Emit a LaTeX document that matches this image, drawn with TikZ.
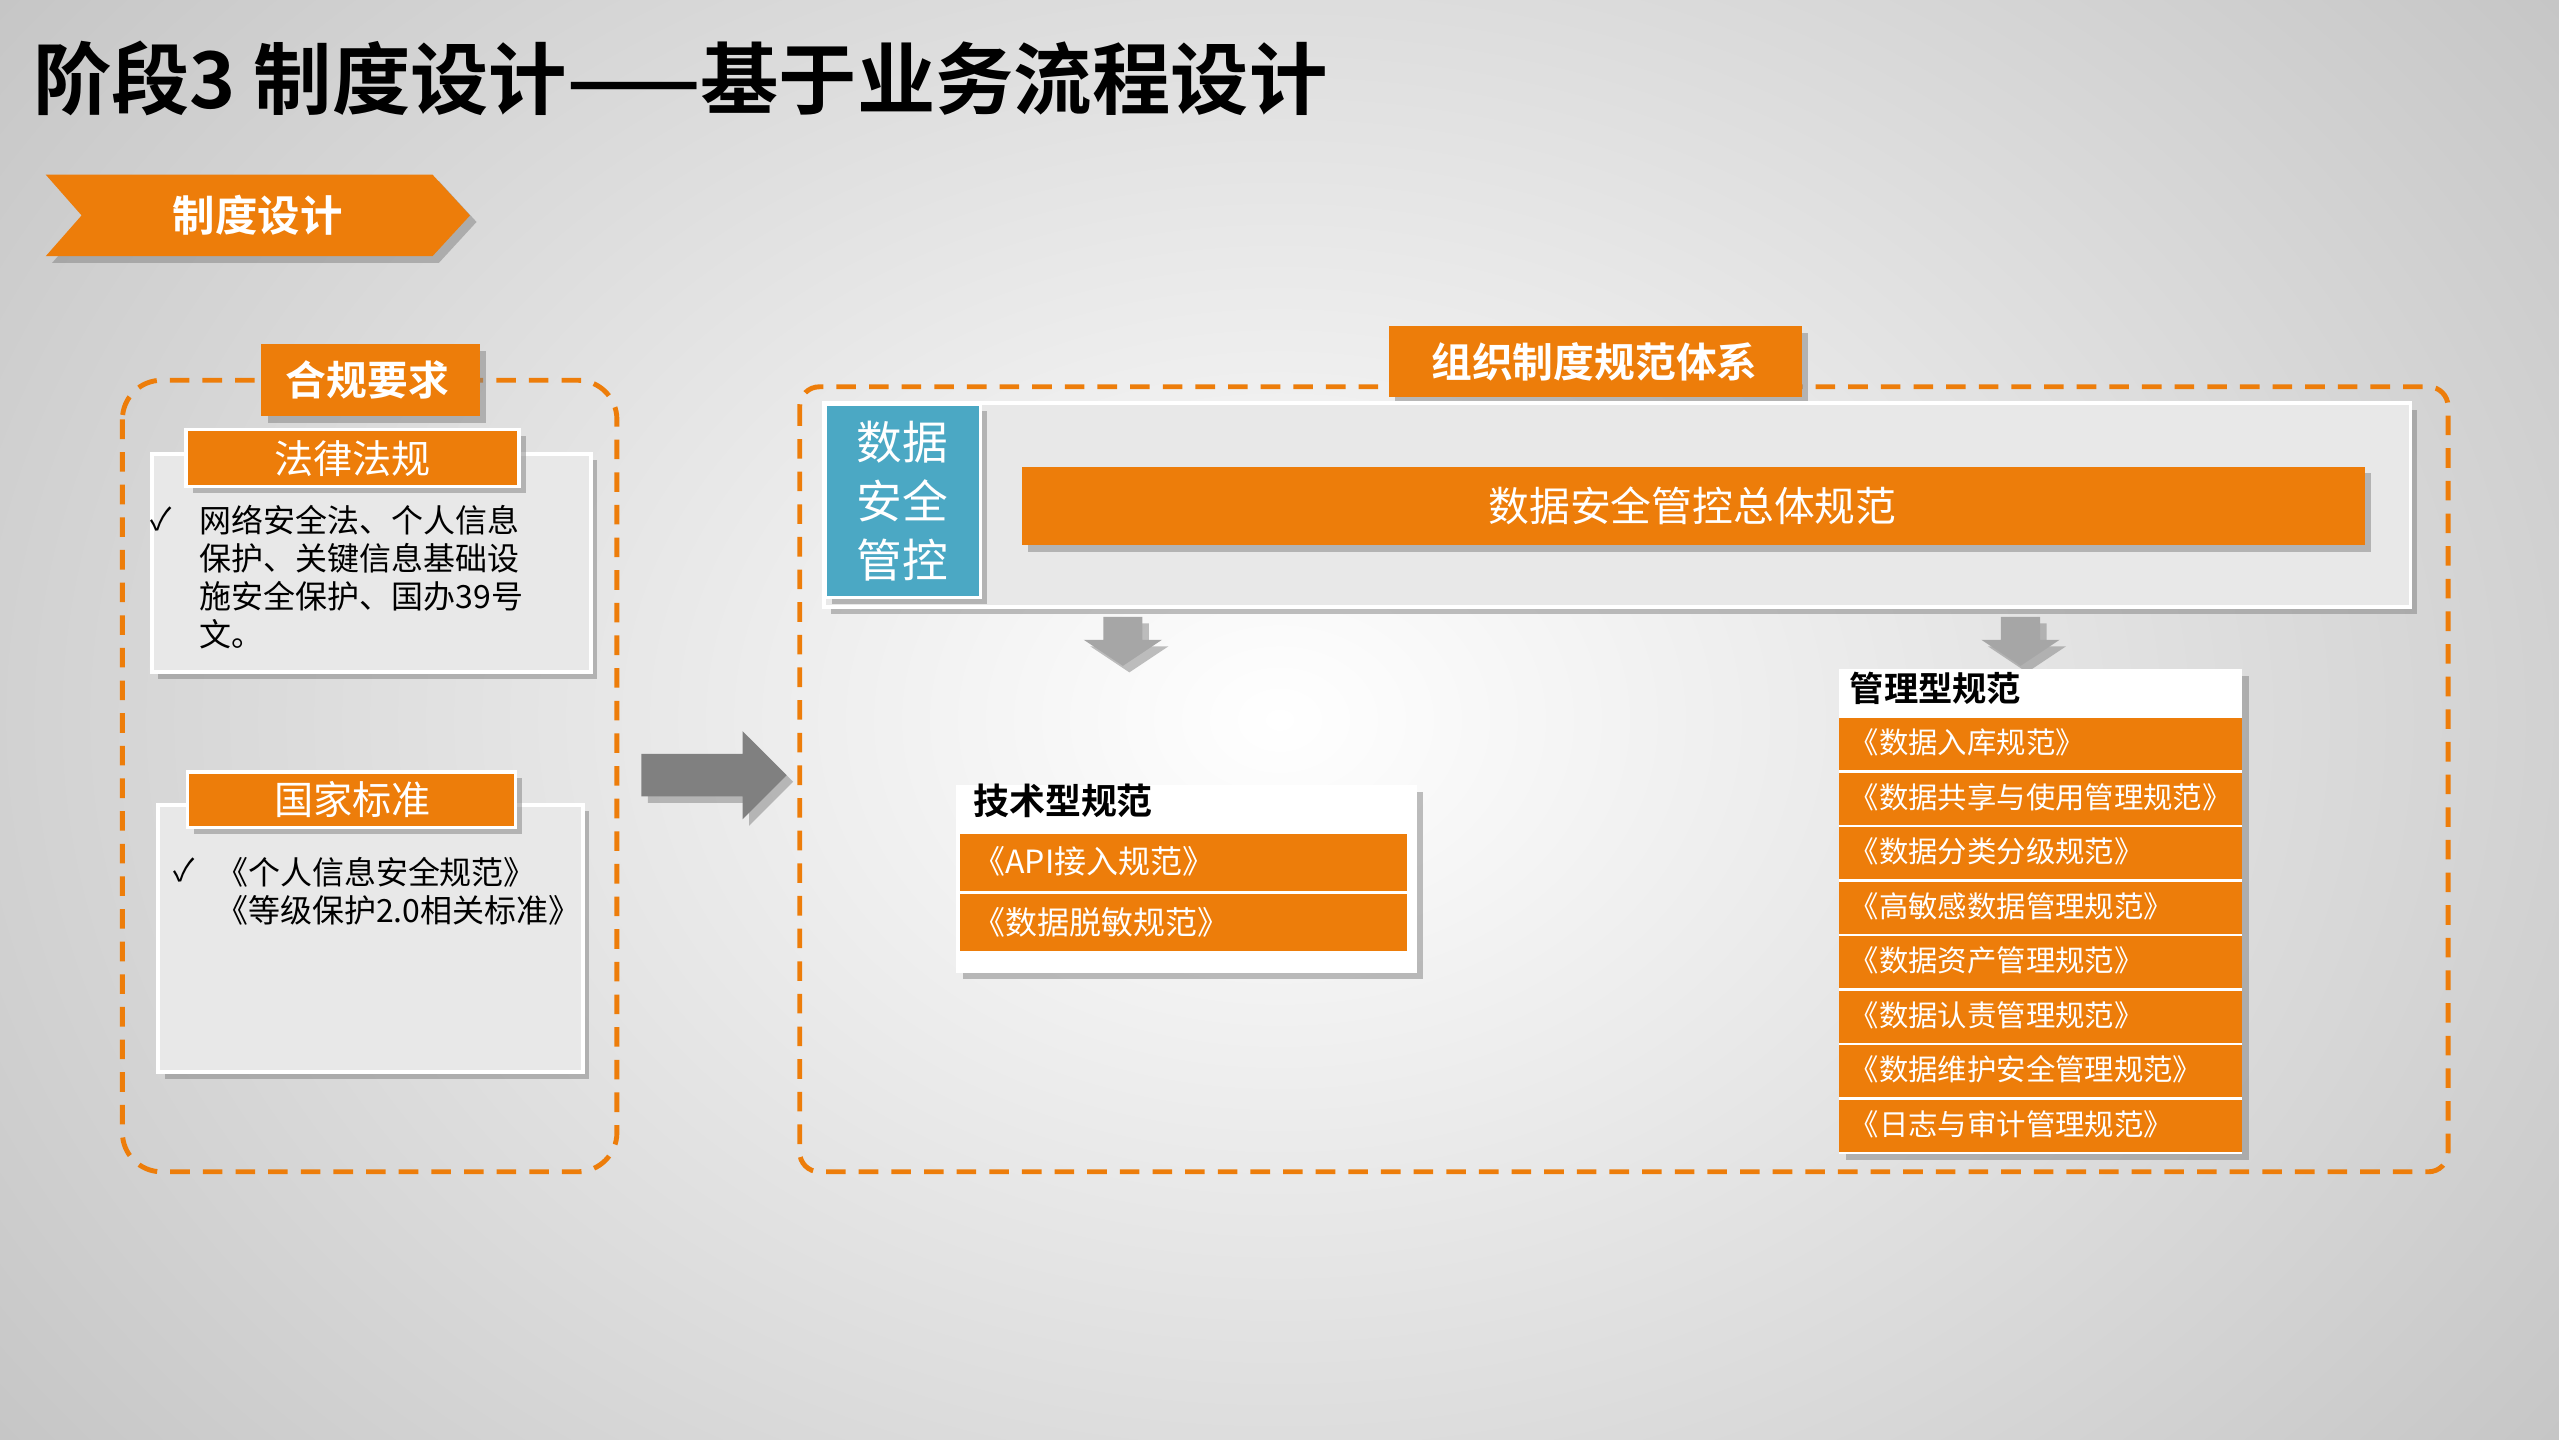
\documentclass[tikz,border=0pt]{standalone}
\usepackage{fontspec}
\setmainfont{Noto Sans CJK SC}
\newfontfamily\cjkb{Noto Sans CJK SC Bold}
\usetikzlibrary{shadows}
\definecolor{org}{RGB}{237,125,10}
\definecolor{teal}{RGB}{75,168,196}
\definecolor{lg}{RGB}{232,232,232}
\begin{document}
\begin{tikzpicture}[x=0.5pt,y=-0.5pt,
 obar/.style={fill=org,draw=none},
 sh/.style={drop shadow={shadow xshift=2pt,shadow yshift=-2pt,opacity=0.5}},
 wt/.style={text=white,inner sep=0},
 lbl/.style={text=white,font=\fontsize{12}{14}\selectfont}]
\useasboundingbox (0,0) rectangle (1568,882);
\fill[gray!45] (0,0) rectangle (1568,882);
\shade[inner color=white,outer color=gray!45] (-200,-300) rectangle (1768,1182);
\node[anchor=west,font=\cjkb\fontsize{24}{28}\selectfont,inner sep=0] (title) at (20,48) {阶段3 制度设计——基于业务流程设计};
% banner
\fill[org,sh] (28,107)--(265,107)--(288,132)--(265,157)--(28,157)--(50,132)--cycle;
\node[wt,font=\cjkb\fontsize{13}{15}\selectfont] (ban) at (158,132) {制度设计};
% left dashed box
\draw[org,dashed,line width=1.5pt,dash pattern=on 6pt off 4pt,rounded corners=12pt] (75,233) rectangle (378,718);
\fill[obar,sh] (160,211) rectangle (294,255);
\node[wt,font=\cjkb\fontsize{12.5}{15}\selectfont] (hg) at (225,233) {合规要求};
\fill[lg,draw=white,line width=1.2pt,sh] (93,278) rectangle (362,412);
\fill[obar,draw=white,line width=1pt,sh] (114,263) rectangle (318,298);
\node[lbl] (fl) at (216,281) {法律法规};
\node[anchor=west,inner sep=0,font=\fontsize{9.5}{11}\selectfont] (ck1) at (92,318) {✓};
\node[anchor=north west,inner sep=0,align=left,font=\fontsize{9.8}{11.7}\selectfont] (t1) at (122,309) {网络安全法、个人信息\\保护、关键信息基础设\\施安全保护、国办39号\\文。};
\fill[lg,draw=white,line width=1.2pt,sh] (97,493) rectangle (357,657);
\fill[obar,draw=white,line width=1pt,sh] (115,473) rectangle (316,507);
\node[lbl] (gb) at (216,490) {国家标准};
\node[anchor=west,inner sep=0,font=\fontsize{9.5}{11}\selectfont] (ck2) at (106,533) {✓};
\node[anchor=north west,inner sep=0,align=left,font=\fontsize{9.8}{11.7}\selectfont] (t2) at (132,525) {《个人信息安全规范》\\《等级保护2.0相关标准》};
% big arrow
\fill[gray!75!black!80,sh] (393,462)--(455,462)--(455,448)--(482,475)--(455,502)--(455,488)--(393,488)--cycle;
% right dashed box
\draw[org,dashed,line width=1.5pt,dash pattern=on 6pt off 4pt,rounded corners=6pt] (490,237) rectangle (1500,718);
\fill[obar,sh] (851,200) rectangle (1104,243);
\node[wt,font=\cjkb\fontsize{12.5}{15}\selectfont] (zz) at (977,222) {组织制度规范体系};
\fill[lg,draw=white,line width=1.2pt,sh] (505,247) rectangle (1477,372);
\fill[teal,draw=white,line width=1pt,sh] (506,248) rectangle (601,366);
\node[wt,align=center,font=\fontsize{14}{18}\selectfont] (sj) at (553,307) {数据\\安全\\管控};
\fill[obar,sh] (626,286) rectangle (1449,334);
\node[wt,font=\fontsize{12.5}{15}\selectfont] (zt) at (1037,310) {数据安全管控总体规范};
% small arrows
\foreach \cx/\n in {688/a1,1238/a2}{
 \fill[gray!70,sh] (\cx-12,378)--(\cx+12,378)--(\cx+12,392)--(\cx+24,392)--(\cx,408)--(\cx-24,392)--(\cx-12,392)--cycle;}
% tech
\fill[white,sh] (586,481) rectangle (868,596);
\node[anchor=west,inner sep=0,font=\cjkb\fontsize{11}{13}\selectfont] (js) at (596,491) {技术型规范};
\foreach \y/\t in {511/《API接入规范》,548/《数据脱敏规范》}{
 \fill[obar] (588,\y) rectangle (862,\y+35);
 \node[wt,anchor=west,font=\fontsize{9.8}{12}\selectfont] at (596,\y+17) {\t};}
% mgmt
\fill[white,sh] (1127,410) rectangle (1374,707);
\node[anchor=west,inner sep=0,font=\cjkb\fontsize{10.5}{13}\selectfont] (gl) at (1133,422) {管理型规范};
\foreach \i/\t in {0/《数据入库规范》,1/《数据共享与使用管理规范》,2/《数据分类分级规范》,3/《高敏感数据管理规范》,4/《数据资产管理规范》,5/《数据认责管理规范》,6/《数据维护安全管理规范》,7/《日志与审计管理规范》}{
 \fill[obar] (1127,440+\i*33.4) rectangle (1374,440+\i*33.4+32);
 \node[wt,anchor=west,font=\fontsize{9}{11}\selectfont] at (1133,440+\i*33.4+15) {\t};}
\end{tikzpicture}
\end{document}
